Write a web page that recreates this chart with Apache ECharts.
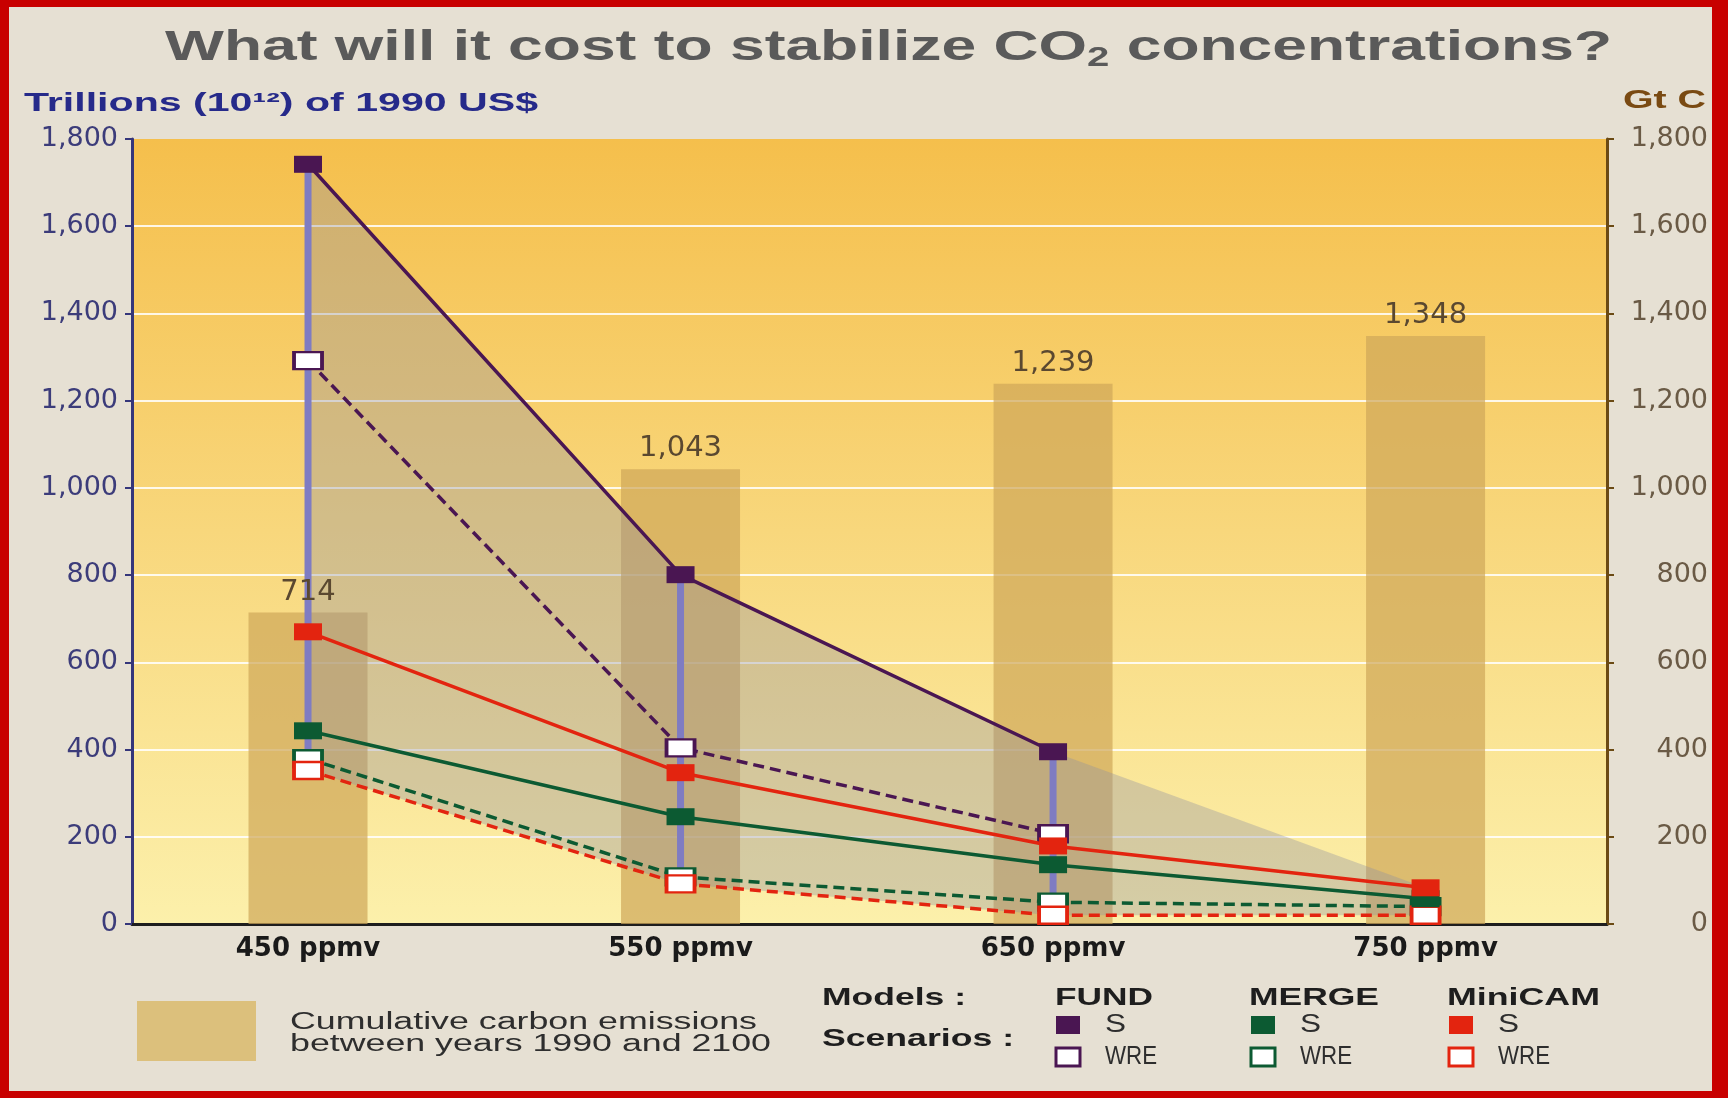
<!DOCTYPE html>
<html>
<head>
<meta charset="utf-8">
<title>What will it cost to stabilize CO2 concentrations?</title>
<script src="https://cdn.jsdelivr.net/npm/echarts@6/dist/echarts.min.js"></script>
<style>
  html, body { margin: 0; padding: 0; background: #c80000; }
  #chart { width: 1728px; height: 1098px; }
</style>
</head>
<body>
<div id="chart"></div>
<script>
// Stabilization targets (x axis)
const categories = ['450 ppmv', '550 ppmv', '650 ppmv', '750 ppmv'];

// Cumulative carbon emissions 1990-2100, Gt C (right axis)
const emissions = [714, 1043, 1239, 1348];

// Mitigation cost, trillions of 1990 US$ (left axis), per model and scenario
const fundS      = [1742, 801, 395, null];
const fundWRE    = [1292, 404, 207, null];
const mergeS     = [443, 246, 136, 58];
const mergeWRE   = [379, 108, 50, 40];
const minicamS   = [670, 347, 179, 83];
const minicamWRE = [352, 92, 20, 20];

const COLORS = { FUND: '#4a1652', MERGE: '#0c5a32', MiniCAM: '#e3240f' };
const FONT = 'DejaVu Sans';
const HEAD = 'Liberation Sans';

const allSeries = [fundS, fundWRE, mergeS, mergeWRE, minicamS, minicamWRE];
const valuesAt = i => allSeries.map(a => a[i]).filter(v => v != null);
const lower = categories.map((c, i) => Math.min(...valuesAt(i)));
const upper = categories.map((c, i) => Math.max(...valuesAt(i)));

const pts = arr => arr.map((v, i) => [i, v]).filter(p => p[1] != null);
const fmt = v => Number(v).toLocaleString('en-US');

// horizontal stretch so a text run spans a given width
const mctx = document.createElement('canvas').getContext('2d');
function textWidth(text, size, weight, family) {
  mctx.font = (weight || 'normal') + ' ' + size + 'px "' + (family || HEAD) + '"';
  return mctx.measureText(text).width;
}
function label(text, x, y, width, size, weight, color) {
  return {
    type: 'text', x: x, y: y, scaleX: width / textWidth(text, size, weight, HEAD), z: 20,
    style: { text: text, fontSize: size, fontWeight: weight, fontFamily: HEAD,
             fill: color, align: 'left', verticalAlign: 'middle' }
  };
}

function lineSeries(name, arr, color, dashed) {
  return {
    name: name, type: 'line', data: pts(arr), z: dashed ? 4 : 5,
    symbol: 'rect', symbolSize: [28, 17], showSymbol: true, silent: true,
    lineStyle: { color: color, width: 3.5, type: dashed ? [11, 6] : 'solid' },
    itemStyle: dashed
      ? { color: '#ffffff', borderColor: color, borderWidth: 3 }
      : { color: color, borderWidth: 0 }
  };
}

// title with subscript
const tParts = [['What will it cost to stabilize CO', 42], ['2', 27], [' concentrations?', 42]];
const tWidth = tParts.reduce((s, p) => s + textWidth(p[0], p[1], 'bold', HEAD), 0);
const title = {
  type: 'text', x: 165, y: 48, scaleX: 1447 / tWidth, z: 20,
  style: {
    text: '{m|What will it cost to stabilize CO}{s|2}{m| concentrations?}',
    align: 'left', verticalAlign: 'middle',
    rich: {
      m: { fontSize: 42, fontWeight: 'bold', fontFamily: HEAD, fill: '#5a5a5a', lineHeight: 48 },
      s: { fontSize: 27, fontWeight: 'bold', fontFamily: HEAD, fill: '#5a5a5a', lineHeight: 8, verticalAlign: 'bottom' }
    }
  }
};

const swatch = (x, y, color, hollow) => ({
  type: 'rect', z: 20,
  shape: { x: x, y: y - 9, width: 24, height: 18 },
  style: hollow ? { fill: '#ffffff', stroke: color, lineWidth: 3 } : { fill: color }
});

const graphics = [
  { type: 'rect', z: -10, shape: { x: 9, y: 7, width: 1703, height: 1084 }, style: { fill: '#e6e0d3' } },
  title,
  label('Trillions (10¹²) of 1990 US$', 24, 104, 514, 25, 'bold', '#262a8a'),
  label('Gt C', 1623, 101, 83, 25, 'bold', '#7a4a12'),
  { type: 'rect', z: 20, shape: { x: 137, y: 1001, width: 119, height: 60 }, style: { fill: '#dcc07c' } },
  label('Cumulative carbon emissions', 290, 1023, 467, 23, 'normal', '#2e2e2e'),
  label('between years 1990 and 2100', 290, 1045, 481, 23, 'normal', '#2e2e2e'),
  label('Models :', 822, 998, 144, 24, 'bold', '#1e1e1e'),
  label('Scenarios :', 822, 1039, 192, 24, 'bold', '#1e1e1e'),
  label('FUND', 1055, 998, 98, 24, 'bold', '#1e1e1e'),
  label('MERGE', 1249, 998, 130, 24, 'bold', '#1e1e1e'),
  label('MiniCAM', 1447, 998, 153, 24, 'bold', '#1e1e1e')
];
[['FUND', 1056], ['MERGE', 1251], ['MiniCAM', 1449]].forEach(([m, x]) => {
  graphics.push(swatch(x, 1025, COLORS[m], false));
  graphics.push(swatch(x, 1057, COLORS[m], true));
  graphics.push(label('S', x + 49, 1025, 21, 25, 'normal', '#2e2e2e'));
  graphics.push(label('WRE', x + 49, 1057, 52, 25, 'normal', '#2e2e2e'));
});

const chart = echarts.init(document.getElementById('chart'), null, { renderer: 'canvas' });
chart.setOption({
  animation: false,
  backgroundColor: '#c80000',
  graphic: graphics,
  grid: {
    left: 132, right: 121, top: 139, bottom: 174, show: true, borderWidth: 0,
    backgroundColor: new echarts.graphic.LinearGradient(0, 0, 0, 1, [
      { offset: 0, color: '#f5bf4c' },
      { offset: 0.5, color: '#f8d77c' },
      { offset: 1, color: '#fcf0ab' }
    ])
  },
  xAxis: {
    type: 'value', min: -0.4725, max: 3.487,
    axisLine: { show: true, onZero: false, lineStyle: { color: '#1e1e1e', width: 3 } },
    axisTick: { show: false },
    splitLine: { show: false },
    axisLabel: {
      customValues: [0, 1, 2, 3],
      formatter: v => categories[Math.round(v)],
      fontFamily: FONT, fontSize: 26, fontWeight: 'bold', color: '#1a1a1a', margin: 12
    }
  },
  yAxis: [
    {
      type: 'value', min: 0, max: 1800, interval: 200, position: 'left',
      axisLine: { show: true, onZero: false, lineStyle: { color: '#35367a', width: 3 } },
      axisTick: { show: true, length: 7, lineStyle: { color: '#35367a', width: 2 } },
      axisLabel: { formatter: fmt, fontFamily: FONT, fontSize: 27, color: '#3c3c7a', margin: 14 },
      splitLine: { show: true, showMinLine: false, showMaxLine: false,
                   lineStyle: { color: 'rgba(255,255,255,0.85)', width: 2 } }
    },
    {
      type: 'value', min: 0, max: 1800, interval: 200, position: 'right',
      axisLine: { show: true, onZero: false, lineStyle: { color: '#6b4a14', width: 3 } },
      axisTick: { show: true, length: 7, lineStyle: { color: '#6b4a14', width: 2 } },
      axisLabel: { formatter: fmt, fontFamily: FONT, fontSize: 27, color: '#6a5a45',
                   align: 'right', margin: 101 },
      splitLine: { show: false }
    }
  ],
  series: [
    {
      name: 'Cumulative carbon emissions', type: 'bar', yAxisIndex: 1, z: 1,
      data: pts(emissions), barWidth: 119, silent: true,
      itemStyle: { color: 'rgba(206,166,88,0.70)' }
    },
    // value labels above the emission bars, kept on top of the range bars
    {
      name: 'emission labels', type: 'bar', yAxisIndex: 1, z: 6, barGap: '-100%',
      data: pts(emissions), barWidth: 119, silent: true,
      itemStyle: { color: 'rgba(0,0,0,0)' },
      label: { show: true, position: 'top', distance: 6, formatter: p => fmt(p.value[1]),
               fontFamily: FONT, fontSize: 29, color: '#5a4830' }
    },
    // shaded band spanning the lowest and highest model result at each target
    {
      name: 'envelope', type: 'custom', z: 2, silent: true,
      data: [[0]],
      renderItem: (params, api) => {
        const top = upper.map((v, i) => api.coord([i, v]));
        const bottom = lower.map((v, i) => api.coord([i, v])).reverse();
        return { type: 'polygon', shape: { points: top.concat(bottom) },
                 style: { fill: 'rgba(145,145,160,0.36)' } };
      }
    },
    // vertical range bars
    {
      name: 'range', type: 'custom', z: 3, silent: true,
      data: categories.map((c, i) => [i, mergeWRE[i], fundS[i]]).filter(d => d[2] != null),
      renderItem: (params, api) => {
        const a = api.coord([api.value(0), api.value(2)]);
        const b = api.coord([api.value(0), api.value(1)]);
        return { type: 'line', shape: { x1: a[0], y1: a[1], x2: b[0], y2: b[1] },
                 style: { stroke: '#7f7cc2', lineWidth: 7 } };
      }
    },
    lineSeries('MERGE WRE', mergeWRE, COLORS.MERGE, true),
    lineSeries('MiniCAM WRE', minicamWRE, COLORS.MiniCAM, true),
    lineSeries('FUND WRE', fundWRE, COLORS.FUND, true),
    lineSeries('MERGE S', mergeS, COLORS.MERGE, false),
    lineSeries('MiniCAM S', minicamS, COLORS.MiniCAM, false),
    lineSeries('FUND S', fundS, COLORS.FUND, false)
  ]
});
</script>
</body>
</html>
